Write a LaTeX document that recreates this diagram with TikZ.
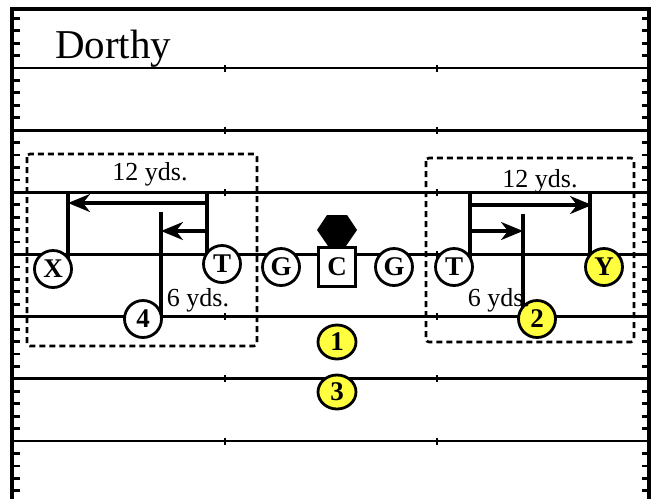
\documentclass[tikz,border=0pt]{standalone}
\usepackage{fontspec}
\setmainfont{Liberation Serif}
\usetikzlibrary{arrows.meta,backgrounds,shapes.geometric}
\definecolor{yel}{RGB}{255,255,64}
\tikzset{
  yard/.style={line width=2.8pt},
  border/.style={line width=3.2pt},
  sidetick/.style={line width=2.8pt},
  hashmark/.style={line width=2.8pt},
  zone/.style={line width=2.6pt, dash pattern=on 6pt off 4pt, rounded corners=3pt},
  player/.style={circle, draw, line width=2.8pt, fill=white, minimum size=37pt, inner sep=0pt,
    font=\bfseries\fontsize{27}{27}\selectfont},
  yplayer/.style={player, fill=yel},
  back/.style={ellipse, draw, line width=2.8pt, fill=yel, minimum width=38pt, minimum height=34pt, inner sep=0pt,
    font=\bfseries\fontsize{27}{27}\selectfont},
  center/.style={rectangle, draw, line width=2.8pt, fill=white, minimum width=37pt, minimum height=39pt, inner sep=0pt,
    font=\bfseries\fontsize{27}{27}\selectfont},
  route/.style={line width=3.2pt},
  routearrow/.style={line width=3.2pt, -{Stealth[length=22pt,width=18pt,inset=7pt]}},
  dist/.style={font=\fontsize{26}{26}\selectfont, inner sep=0pt},
}
\begin{document}
\begin{tikzpicture}[x=1pt,y=-1pt]
\useasboundingbox (0,0) rectangle (652,499);
% field
\foreach \k in {0,...,6}{
  \draw[yard] (12,{68+62.17*\k}) -- (649,{68+62.17*\k});
  \draw[hashmark] (225,{64.5+62.17*\k}) -- (225,{71.5+62.17*\k});
  \draw[hashmark] (437,{64.5+62.17*\k}) -- (437,{71.5+62.17*\k});
}
\foreach \j in {-4,...,34}{
  \pgfmathtruncatemacro\r{mod(\j+10,5)}
  \ifnum\r>0
    \draw[sidetick] (12,{68+12.434*\j}) -- (20,{68+12.434*\j});
    \draw[sidetick] (642,{68+12.434*\j}) -- (649,{68+12.434*\j});
  \fi
}
\draw[border] (12,499) -- (12,9) -- (649,9) -- (649,499);
\node[anchor=base west, inner sep=0pt, font=\fontsize{41}{41}\selectfont] (title) at (55,58) {Dorthy};
% zones
\draw[zone] (27,154) rectangle (257,346);
\draw[zone] (426,158) rectangle (634,342);
% players
\node[player] (X) at (53,269) {X};
\node[player] (TL) at (222,264) {T};
\node[player] (Q4) at (143,319) {4};
\node[player] (GL) at (281,267) {G};
\node[center] (C) at (337,267) {C};
\node[player] (GR) at (394,267) {G};
\node[player] (TR) at (454,267) {T};
\node[yplayer] (Y) at (604,267) {Y};
\node[yplayer] (B2) at (537,319) {2};
\node[back] (B1) at (337,342) {1};
\node[back] (B3) at (337,392) {3};
% ball
\fill (317,230) -- (327,215) -- (347,215) -- (357,230) -- (346,246) -- (328,246) -- cycle;
% route coordinates
\coordinate (lx) at (68,192);
\coordinate (lt) at (207,192);
\coordinate (l4) at (161,212);
\coordinate (rt) at (470,192);
\coordinate (ry) at (590,192);
\coordinate (r2) at (523,214);
\begin{pgfonlayer}{background}
\draw[route] (lx) -- (lx |- X.center);
\draw[route] (lt) -- (lt |- TL.center);
\draw[route] (l4) -- (l4 |- Q4.center);
\draw[route] (rt) -- (rt |- TR.center);
\draw[route] (ry) -- (ry |- Y.center);
\draw[route] (r2) -- (r2 |- B2.center);
\end{pgfonlayer}
\draw[routearrow] ([yshift=-11pt]lt) -- ([yshift=-11pt]lx);
\draw[routearrow] ([yshift=-39pt]lt) -- ([yshift=-39pt]lt -| l4);
\draw[routearrow] ([yshift=-13pt]rt) -- ([yshift=-13pt,xshift=2pt]ry);
\draw[routearrow] ([yshift=-39pt]rt) -- ([yshift=-39pt]rt -| r2);
% labels
\node[dist] (d12l) at (150,174) {12 yds.};
\node[dist] (d6l) at (198,300) {6 yds.};
\node[dist] (d12r) at (540,181) {12 yds.};
\node[dist] (d6r) at (499,300) {6 yds.};
\end{tikzpicture}
\end{document}
